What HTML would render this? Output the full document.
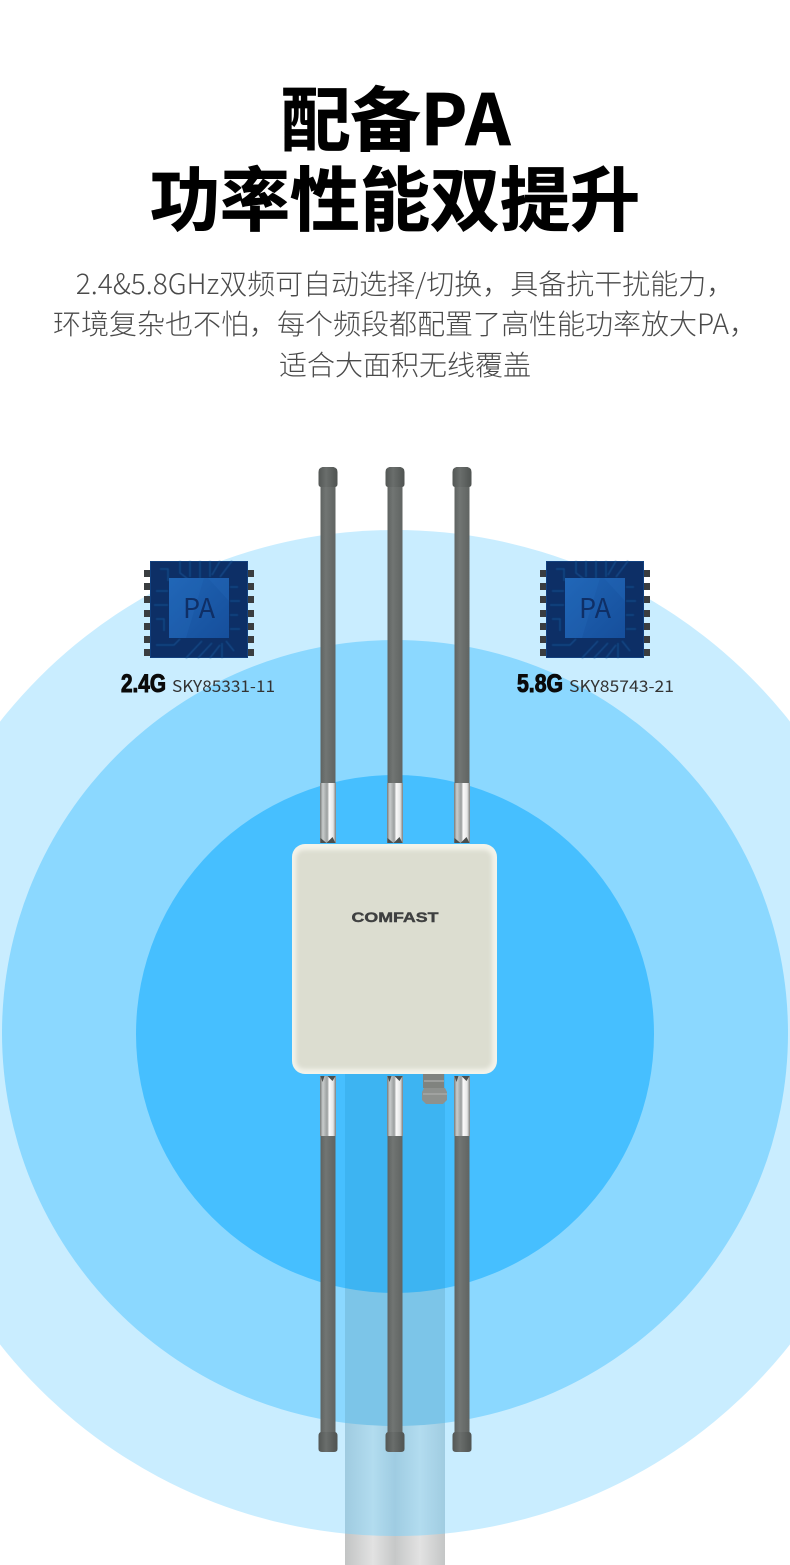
<!DOCTYPE html>
<html><head><meta charset="utf-8"><style>
html,body{margin:0;padding:0;background:#fff}
svg{display:block}
.t{font-family:"Noto Sans CJK SC","Liberation Sans",sans-serif;font-weight:700;font-size:70px;fill:#000;stroke:#000;stroke-width:.8;text-anchor:middle}
.s{font-family:"Noto Sans CJK SC Light","Noto Sans CJK SC","Liberation Sans",sans-serif;font-weight:300;font-size:28px;fill:#4a4a4a;text-anchor:middle}
.g{font-family:"Liberation Sans",sans-serif;font-weight:700;font-size:25px;fill:#0a0a0a;stroke:#0a0a0a;stroke-width:1}
.m{font-family:"Noto Sans CJK SC","Liberation Sans",sans-serif;font-size:16px;fill:#333}
.p{font-family:"Noto Sans CJK SC","Liberation Sans",sans-serif;font-size:27px;fill:#0f2f66;text-anchor:middle}
</style></head><body>
<svg width="790" height="1565" viewBox="0 0 790 1565" xmlns="http://www.w3.org/2000/svg">
<defs>
<linearGradient id="silver" x1="0" x2="1" y1="0" y2="0"><stop offset="0" stop-color="#777b7a"/><stop offset=".18" stop-color="#c9cccc"/><stop offset=".45" stop-color="#9a9e9e"/><stop offset=".58" stop-color="#fafafa"/><stop offset=".82" stop-color="#e6e7e7"/><stop offset="1" stop-color="#7a7e7d"/></linearGradient>
<linearGradient id="rod" x1="0" x2="1" y1="0" y2="0"><stop offset="0" stop-color="#5f6361"/><stop offset=".35" stop-color="#717573"/><stop offset="1" stop-color="#606462"/></linearGradient>
<linearGradient id="cap" x1="0" x2="1" y1="0" y2="0"><stop offset="0" stop-color="#535755"/><stop offset=".4" stop-color="#6a6e6c"/><stop offset="1" stop-color="#4f5351"/></linearGradient>
<linearGradient id="pole" x1="0" x2="1" y1="0" y2="0"><stop offset="0" stop-color="#c2c4c4"/><stop offset=".28" stop-color="#e2e2e2"/><stop offset=".5" stop-color="#c6c8c8"/><stop offset=".75" stop-color="#e2e2e2"/><stop offset="1" stop-color="#c4c6c6"/></linearGradient>
<linearGradient id="pole2" x1="0" x2="1" y1="0" y2="0"><stop offset="0" stop-color="#9fcbe0"/><stop offset=".28" stop-color="#b2dcef"/><stop offset=".5" stop-color="#9fcce2"/><stop offset=".75" stop-color="#b2dcef"/><stop offset="1" stop-color="#a0cce1"/></linearGradient>
<linearGradient id="chipin" x1="0" x2="1" y1="0" y2="1"><stop offset="0" stop-color="#1f64b4"/><stop offset="1" stop-color="#164f9c"/></linearGradient>
<filter id="soft" x="-5%" y="-5%" width="110%" height="110%"><feGaussianBlur stdDeviation="2"/></filter>
<filter id="s1"><feGaussianBlur stdDeviation=".5"/></filter>
<clipPath id="boxclip"><rect x="292" y="844" width="205" height="230" rx="13"/></clipPath>
<g id="chipg">
<g fill="#3a3d40"><rect x="-6" y="9" width="6" height="7"/><rect x="-6" y="22" width="6" height="7"/><rect x="-6" y="35" width="6" height="7"/><rect x="-6" y="49" width="6" height="7"/><rect x="-6" y="62" width="6" height="7"/><rect x="-6" y="75" width="6" height="7"/><rect x="-6" y="88" width="6" height="7"/>
<rect x="98" y="9" width="6" height="7"/><rect x="98" y="22" width="6" height="7"/><rect x="98" y="35" width="6" height="7"/><rect x="98" y="49" width="6" height="7"/><rect x="98" y="62" width="6" height="7"/><rect x="98" y="75" width="6" height="7"/><rect x="98" y="88" width="6" height="7"/></g>
<rect x="0" y="0" width="98" height="97" fill="#0d2f66"/>
<rect x=".5" y=".5" width="97" height="96" fill="none" stroke="#11407f"/>
<g stroke="#16508f" stroke-width="1.500" fill="none" opacity=".8" filter="url(#s1)"><path d="M30 0V12L38 18M40 0V16M50 0V17M60 0V16M70 0L62 14M82 0L70 16M10 8H18V20M6 30H18M4 44H18M6 58H14V70M88 26H80M90 40H80M88 54H80M90 68H80M6 84L24 84L30 78M36 97L52 80M48 97L62 82M60 97L70 84M72 97V82M84 90L76 80"/></g>
<rect x="19" y="17" width="60" height="60" fill="url(#chipin)"/>
<path d="M58 17H79V40Z M54 17L36 77H19V17Z" fill="#2d77c6" opacity=".18"/>
<text class="p" x="49" y="57">PA</text>
</g>
<g id="ant">
<rect x="2" y="19" width="15" height="297" fill="url(#rod)"/>
<path d="M0 5Q0 1 4 0H15Q19 1 19 5V17Q19 20 16 20H3Q0 20 0 17Z" fill="url(#cap)"/>
<rect x="1.500" y="316" width="16" height="60" fill="url(#silver)"/>
<path d="M2 371L8 376H2ZM8 376L14 370L17 376Z" fill="#4a4e4d"/>
</g>
<g id="antb">
<rect x="2" y="62" width="15" height="298" fill="url(#rod)"/>
<path d="M0 362Q0 358 3 358H16Q19 358 19 362V375Q19 378 15 378H4Q0 378 0 375Z" fill="url(#cap)"/>
<rect x="1.500" y="2" width="16" height="60" fill="url(#silver)"/>
<path d="M2 2H6L4 8ZM9 2H17L14 7Z" fill="#4a4e4d"/>
</g>
</defs>

<rect width="790" height="1565" fill="#fff"/>
<circle cx="395" cy="1033" r="503" fill="#c9edff"/>
<circle cx="395" cy="1033" r="393" fill="#8bd8ff"/>
<circle cx="395" cy="1034" r="259" fill="#46bfff"/>

<rect x="345" y="1074" width="100" height="491" fill="url(#pole)"/>
<clipPath id="c1"><circle cx="395" cy="1033" r="503"/></clipPath>
<clipPath id="c2"><circle cx="395" cy="1033" r="393"/></clipPath>
<clipPath id="c3"><circle cx="395" cy="1034" r="259"/></clipPath>
<rect x="345" y="1074" width="100" height="491" fill="url(#pole2)" clip-path="url(#c1)"/>
<rect x="345" y="1074" width="100" height="491" fill="#7cc5e8" clip-path="url(#c2)"/>
<rect x="345" y="1074" width="100" height="491" fill="#3db4f2" clip-path="url(#c3)"/>

<text class="t" x="396.500" y="145">配备<tspan letter-spacing="2">PA</tspan></text>
<text class="t" x="395" y="225">功率性能双提升</text>
<text class="s" x="405" y="294">2.4&amp;5.8GHz双频可自动选择/切换，具备抗干扰能力，</text>
<text class="s" x="405" y="334">环境复杂也不怕，每个频段都配置了高性能功率放大PA，</text>
<text class="s" x="405" y="375">适合大面积无线覆盖</text>

<use href="#chipg" x="150" y="561"/>
<use href="#chipg" x="546" y="561"/>
<text class="g" x="121" y="692" textLength="45" lengthAdjust="spacingAndGlyphs">2.4G</text>
<text class="m" x="172" y="692" textLength="103" lengthAdjust="spacingAndGlyphs">SKY85331-11</text>
<text class="g" x="517" y="692" textLength="46" lengthAdjust="spacingAndGlyphs">5.8G</text>
<text class="m" x="569" y="692" textLength="105" lengthAdjust="spacingAndGlyphs">SKY85743-21</text>

<use href="#ant" x="318.500" y="467"/>
<use href="#ant" x="385.500" y="467"/>
<use href="#ant" x="452.500" y="467"/>
<use href="#antb" x="318.500" y="1074"/>
<use href="#antb" x="385.500" y="1074"/>
<use href="#antb" x="452.500" y="1074"/>

<path d="M423 1074H444V1088H423Z" fill="#80837f"/>
<path d="M424 1088H445L447 1092V1100L443 1104H426L422 1100V1092Z" fill="#8e918e"/>
<path d="M424 1081H444M423 1094H447" stroke="#a5a8a6" stroke-width="1.500" fill="none"/>

<rect x="292" y="844" width="205" height="230" rx="13" fill="#f3f3ea"/>
<g clip-path="url(#boxclip)">
<rect x="296" y="850" width="196" height="219" rx="8" fill="#dcddd0" filter="url(#soft)"/>
</g>
<text x="395" y="922" text-anchor="middle" font-family="Liberation Sans,sans-serif" font-weight="700" font-size="14" fill="#3f4040" stroke="#3f4040" stroke-width=".4" textLength="87" lengthAdjust="spacingAndGlyphs">COMFAST</text>
</svg>
</body></html>
